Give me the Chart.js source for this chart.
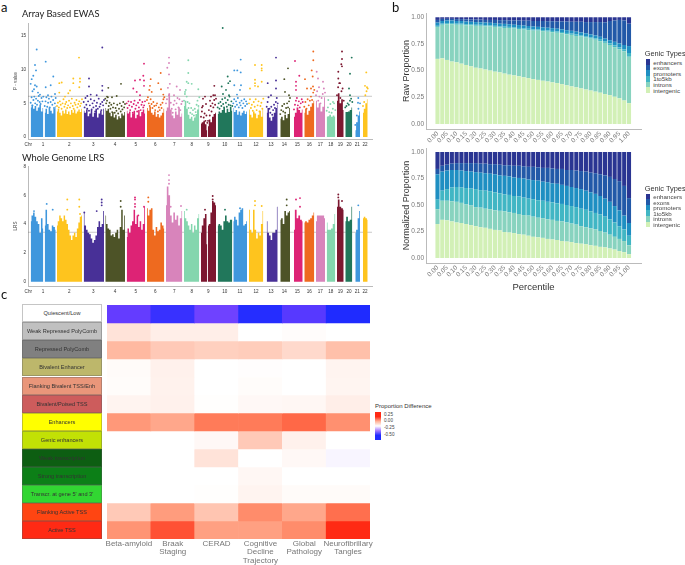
<!DOCTYPE html>
<html>
<head>
<meta charset="utf-8">
<script src="https://cdn.jsdelivr.net/npm/chart.js@4"></script>
<style>
  html, body { margin: 0; background: #fff; }
  #page { position: relative; width: 685px; height: 565px; overflow: hidden; font-family: "Liberation Sans", sans-serif; }
  canvas { position: absolute; }
  .txt { position: absolute; white-space: nowrap; }
  .letter { font: 13px Lato, sans-serif; color: #111; }
  .title { font: 9.3px Lato, sans-serif; color: #222; }
  .lg { position: absolute; font-size: 6.2px; color: #444; }
  .lg .h { position: absolute; top: -10px; left: -1px; font-size: 7.4px; color: #333; white-space: nowrap; }
  .lg .r { display: flex; align-items: center; height: 5.6px; white-space: nowrap; }
  .lg i { display: block; width: 4px; height: 5.6px; margin-right: 3.5px; }
  .state { position: absolute; left: 22px; width: 80px; height: 18.05px; box-sizing: border-box; border: .5px solid rgba(90,90,90,.35);
           font-size: 5.6px; color: #333; display: flex; align-items: center; justify-content: center; white-space: nowrap; }
</style>
</head>
<body>
<div id="page">
  <canvas id="ewas" style="left:0;top:15px" width="377" height="136"></canvas>
  <canvas id="lrs" style="left:0;top:158px" width="377" height="140"></canvas>
  <canvas id="raw" style="left:385px;top:5px" width="261" height="140"></canvas>
  <canvas id="norm" style="left:385px;top:140px" width="261" height="155"></canvas>
  <canvas id="heat" style="left:102px;top:300px" width="273" height="265"></canvas>
</div>
<script>
// panel a: solid part of each chromosome, one list per block, in the order of the plot
const blockStart = [2.7,16.7,29,55.7,77.3,98.7,119,138,156,173,180,189.7,205.3,221,238.7,252.3,266,276.3,288,298.7,309,317.3,327.3,335];
const blockEnd = [15.3,27.7,54,76,97,117,136.3,154.3,171.3,179.3,188,204.3,219,235.3,249.7,262,274.7,286.3,297,307.3,315.7,324.3,332,339.7];
const blockChr = [1,1,2,3,4,5,6,7,8,9,9,10,11,12,13,14,15,16,17,18,19,20,21,22];

const chrTicks = [0.3,15,41.3,65.3,87,107.7,127.3,146.3,163.7,180.3,196.7,212,228,243,256.3,269.3,281.3,292.3,302.7,312.3,321,329.3,337];
const chrLabels = ["Chr","1","2","3","4","5","6","7","8","9","10","11","12","13","14","15","16","17","18","19","20","21","22"];

const ewasTicks = [0,5,10,15];
const ewasLine = 6.05;
const ewasTops = [
  [4.4,4.8,4.2,4.6,3.9,4.4,4.8,3.8,4.3],
  [3.6,4.2,3.4,4.4,3.9,3.5,4.2,4.6],
  [3.8,4.2,3.6,3.2,3.9,3.5,4.1,3.4,3.8,3.3,4.0,3.6,4.1,3.5,3.8,4.1,3.7,4.2],
  [3.9,3.6,4.1,3.1,3.5,4.0,3.0,3.6,4.2,2.9,3.5,3.9,3.3,4.2],
  [4.3,3.9,4.2,3.6,3.1,3.7,2.9,3.3,2.6,3.1,2.8,3.5,3.2,3.7],
  [3.9,3.5,3.8,2.9,3.5,3.9,2.8,3.3,4.0,3.1,3.7,4.1,3.5],
  [4.3,3.9,4.5,3.6,3.3,3.8,3.0,3.4,2.9,3.2,3.6,4.2],
  [3.9,4.4,6.5,4.1,3.2,2.8,3.8,3.3,4.4,3.0,3.5],
  [4.6,5.4,4.2,3.3,2.7,3.0,2.4,2.9,3.4,4.1,4.5],
  [2.0,2.2,2.4,1.9,1.0],
  [1.6,2.6,2.2,3.0,3.4,3.6],
  [3.4,3.8,3.6,4.0,4.3,3.6,4.2,3.7,4.5,3.9],
  [4.3,3.7,4.0,3.3,3.8,3.2,3.6,3.9,3.4,3.8],
  [4.1,3.3,2.9,3.8,3.5,2.8,3.3,3.9,3.0,4.2],
  [3.6,4.3,2.9,2.4,3.0,3.6,4.3,4.8],
  [2.7,3.0,2.5,3.3,2.8,3.4,4.3],
  [3.0,3.6,4.4,4.0,3.6,4.1],
  [3.6,4.2,3.3,3.9,4.5,5.0,5.4],
  [5.4,4.4,5.0,3.8,4.5,5.9],
  [3.0,3.1,3.3,3.0,3.2,3.0],
  [5.4,6.5,5.0,5.6,4.0],
  [3.7,3.7,3.8,4.0,4.4],
  [1.0,2.2,3.2,3.8],
  [3.6,4.2,5.0,5.6]
];
// cloud of hits just above the solid part, evenly along each block
const ewasCloud = [
  [5.1,5.9,4.7,5.5,6.0,5.0,5.7,4.8,5.4,6.1,5.2,4.9,5.8,5.3,6.0],
  [4.6,5.3,5.9,4.5,5.1,5.7,4.4,5.2,6.0,4.8,5.5,4.3,5.0,5.8],
  [4.6,5.1,4.4,5.3,4.8,4.2,5.0,5.6,4.5,4.9,5.2,4.3,4.7,5.4,4.4,5.0,5.7,4.6,4.2,5.1,4.8,5.5,4.4,4.9,5.3,4.6,5.0,5.6],
  [5.2,4.4,5.8,4.8,4.2,5.3,3.9,4.7,5.6,4.1,5.0,4.4,5.4,3.8,4.6,5.1,4.2,5.7,4.5,4.9,4.0,5.2,4.7,5.5],
  [5.7,5.0,5.4,5.9,4.6,5.1,4.2,4.8,3.7,4.4,5.0,3.6,4.3,3.9,4.8,3.5,4.2,5.0,3.8,4.6,4.1,5.2,4.4,4.9],
  [5.0,4.3,5.3,4.7,4.0,5.2,4.5,3.6,4.9,5.4,4.2,4.7,3.8,5.1,4.4,5.5,4.0,4.8,5.2,4.4,4.7,5.3],
  [5.5,5.9,5.0,4.6,5.6,4.9,4.3,5.2,4.6,4.0,4.7,5.0,3.8,4.4,4.0,4.8,4.3,5.1,5.6,5.9],
  [5.0,5.6,7.3,6.2,7.9,5.1,4.2,3.6,4.8,5.4,4.1,5.0,5.8,4.4,5.6,4.0,4.9,5.3],
  [5.4,6.4,7.0,6.0,5.2,4.3,5.0,3.6,4.3,3.4,4.0,3.2,4.2,3.7,4.8,5.4,4.6,5.9],
  [3.0,3.8,4.6,2.9,3.5,2.4,3.2,2.1],
  [2.4,4.0,3.2,4.6,3.8,5.0,4.4,5.5,4.8,5.7],
  [4.4,5.0,4.2,5.2,4.6,5.6,4.9,4.4,5.8,5.1,4.5,5.5,4.8,6.0,4.7,5.3,4.6],
  [5.0,5.6,4.5,5.3,4.8,5.8,4.4,5.1,4.7,5.4,4.3,5.0,5.6,4.6,5.3,4.9],
  [5.0,5.6,4.3,4.8,3.9,5.2,4.5,5.6,4.0,4.7,5.3,3.8,4.6,5.1,4.2,5.7],
  [4.5,5.2,5.9,4.2,3.6,4.5,3.3,4.0,4.8,4.3,5.2,5.8,5.0],
  [3.4,4.0,4.6,3.8,4.9,3.6,4.3,5.0,4.4,5.3,5.8],
  [4.1,4.8,5.4,5.8,4.7,5.3,4.4,5.0,5.6,5.2],
  [4.5,5.2,4.2,5.6,4.7,5.4,6.0,5.5,6.6,7.0],
  [6.2,6.8,5.4,6.0,5.0,5.8,6.4,7.2,6.6],
  [3.9,4.4,3.7,4.9,3.6,4.2,5.0,4.0],
  [6.2,7.4,8.0,5.8,6.8,7.2,5.4],
  [4.4,4.6,5.0,4.8,5.4,5.7,5.2],
  [1.8,3.2,4.2,5.0],
  [4.6,5.2,6.2,6.8,7.2]
];
// single hits high above, [position, value]
const ewasDots = [
  [[8.7,13],[7,10.7],[8,9.9],[5.3,9.1],[3.7,8.6],[2.7,7.9],[7,7.7],[8.7,7.5],[4.5,6.8],[6,7.1],[10,6.6],[12,6.3]],
  [[17.7,11.2],[25.3,9],[17.7,7.4],[22.7,7.7],[27,6.4],[20,6.2]],
  [[51,11.8],[52,8.7],[52,8.2],[45.3,8.7],[45.3,8],[33.7,8.1],[31.3,8],[31.3,6.6],[42,6.9],[40.3,6.5],[51.3,7.4],[37,6]],
  [[74.3,13.3],[61,8.7],[61,7.5],[74.3,7.6],[74.3,6.9],[68.7,6.2],[59.3,6.1],[62.7,6.3]],
  [[80.3,7.3],[93,7.9],[88.7,6.1],[79,6],[84,5.9]],
  [[116,10.9],[115.3,9.1],[107,8.4],[112,8.5],[116,8.4],[116,7.6],[105.3,7.2],[108.7,6.7],[112,6.2]],
  [[122.7,8.6],[122,7.6],[121.3,7],[123.7,6.7],[132.7,9.5],[130.3,8],[133,7.1],[135.3,6.3]],
  [[141,11.8],[141,11],[139.3,10.3],[141,9.3],[152,7],[148.7,7.5],[146,6.2]],
  [[160.3,11.4],[160.3,9.5],[158.7,8.2],[160.3,8],[163.7,7.9],[170.3,7.1],[157,6.7]],
  [[175,5.7],[177,6],[174,4.4],[178,4.9]],
  [[186.3,7.6],[185.3,6.2],[183,6],[187,6.2],[182,5.4]],
  [[194.7,16.2],[199.7,9],[202,8.3],[200.3,8],[193.7,7.5],[198,7],[195,6.4],[201,6.2]],
  [[212.7,11.5],[206.3,9.9],[209.3,9.9],[212.7,9.6],[206.3,7.7],[212,7],[213,7.7],[209,6.3]],
  [[227,10.7],[233.7,10.7],[233.7,10.2],[233.7,9.9],[227,8.5],[227,8],[227,7.6],[233.7,8.2],[222,7.2],[230,7.5]],
  [[248,11.8],[239.7,8],[248,8.4],[248,7.2],[243,6.2]],
  [[260,10.2],[256.3,8.6],[257,6.7],[261,6.2]],
  [[267,11.3],[271.3,9.1],[268,8.2],[268,7.6],[268,7]],
  [[285.3,12.7],[285.3,11.4],[283.7,9.9],[284.7,9],[277,8.6],[279,7.2],[283,7.2],[285,7.5]],
  [[288.7,9.7],[290,8.7],[295,8.2],[291,7.4]],
  [[300.3,5.5],[305,5.2]],
  [[314,12.7],[314,11.6],[313.3,10.8],[314,10.5],[310.3,9.7],[310.3,8.7],[312,8]],
  [[323.7,11.8],[322,9.4],[321,7.2],[322,6.2]],
  [[330.3,5.8],[330,5.1]],
  [[338.3,9.6],[337,7.6],[339,7.4]]
];

const lrsTicks = [0,2,4,6,8];
const lrsLine = 3.43;
const lrsTops = [
  [4.2,4.6,4.8,4.5,4.2,4.0,3.4,4.4,3.7],
  [3.9,5.0,4.0,3.6,3.5,3.9,3.8,3.6],
  [3.9,4.2,4.6,4.4,4.2,4.6,4.3,4.0,3.6,3.2,2.9,3.2,3.4,3.1,3.7,4.1,4.5,4.6],
  [4.8,3.9,3.6,3.4,3.3,3.0,2.7,2.9,3.2,3.8,4.2,3.8,4.0,4.9],
  [4.6,4.0,3.7,3.6,3.2,3.3,3.1,3.4,3.6,3.0,3.8,5.0,3.6,4.6],
  [3.1,3.7,3.4,3.9,4.2,5.0,4.0,4.6,3.8,4.2,3.6,4.0,5.2],
  [5.1,4.6,5.0,5.1,3.6,3.2,3.8,3.5,3.6,4.1,3.9,3.7],
  [5.3,6.6,6.0,4.6,4.1,4.8,4.3,4.6,3.9,4.4,4.9],
  [4.9,4.4,4.2,3.9,3.6,4.0,3.4,3.9,3.6,4.4,4.7],
  [3.4,3.9,4.4,4.7,2.6],
  [3.9,4.0,4.8,5.6,5.5,5.3],
  [3.9,4.0,3.9,3.6,4.2,4.6,4.2,4.1,4.3,4.3],
  [4.2,4.5,4.3,3.9,4.8,5.0,5.1,3.9,4.0,4.2],
  [5.0,3.6,3.4,5.0,3.6,3.0,3.4,3.2,4.0,4.9],
  [4.2,3.4,3.2,2.9,3.4,3.4,3.6,5.2],
  [4.3,4.4,4.0,4.9,4.6,4.8,4.9],
  [3.6,5.0,4.4,4.6,4.3,4.2],
  [4.1,4.2,4.1,4.3,4.4,4.6,4.8],
  [4.2,4.6,4.6,4.6,4.6,4.4],
  [4.1,3.6,3.6,3.7,4.0,4.7],
  [5.2,5.7,5.2,5.1,5.0],
  [4.2,4.5,4.2,4.3,5.2],
  [3.4,3.6,4.4,4.9],
  [4.4,4.5,4.4,4.3]
];
const lrsDots = [
  [[6,4.9]],
  [[18.7,5.4],[24.7,5]],
  [[39.3,5.7],[39.3,5],[51.3,5.7],[51.3,5.2],[52,4.7]],
  [[73.7,5.7],[73.7,5.5],[73.7,5.3],[68.7,4.9],[56.3,4.8]],
  [[92.7,5.6],[92.7,5.2]],
  [[107,5.85],[107,5.7],[107,5.4],[107,5.2],[110.3,4.6],[116,5.2]],
  [[120.3,5.85],[120.3,5.55]],
  [[141,7.4],[141,7.05],[141,6.8],[153,5.25],[142.7,5.2]],
  [[158.7,5]],
  [[177,5]],
  [[184.7,5.95],[184.7,5.7]],
  [[197,5]],
  [[212,5.1]],
  [[227,5.6],[227,5.3],[233.7,5.25]],
  [],
  [[258.7,5.7],[258.7,5.3]],
  [[272,5.8],[272,5.2],[268,5.7]],
  [],
  [],
  [],
  [[310.3,6.05],[310.3,5.85],[314,5.6]],
  [],
  [[330.3,5.3]],
  []
];

// panel b: top edge of each stacked layer per percentile bar
const genicTypes = ["intergenic","introns","1to5kb","promoters","exons","enhancers"];
const percentiles = [0,0.025,0.05,0.075,0.1,0.125,0.15,0.175,0.2,0.225,0.25,0.275,0.3,0.325,0.35,0.375,0.4,0.425,0.45,0.475,0.5,0.525,0.55,0.575,0.6,0.625,0.65,0.675,0.7,0.725,0.75,0.775,0.8,0.825,0.85,0.875,0.9,0.925,0.95,0.975,1];
const percentileTicks = [0,0.05,0.1,0.15,0.2,0.25,0.3,0.35,0.4,0.45,0.5,0.55,0.6,0.65,0.7,0.75,0.8,0.85,0.9,0.95,1];
const proportionTicks = [0,0.25,0.5,0.75,1];

const rawIntergenic = [.61,.615,.60,.585,.578,.565,.553,.54,.527,.52,.51,.50,.49,.483,.472,.462,.455,.447,.437,.43,.42,.413,.405,.398,.39,.383,.373,.362,.352,.343,.333,.323,.313,.303,.293,.28,.27,.255,.24,.22,.195];
const rawIntrons = [.91,.93,.935,.935,.93,.93,.925,.925,.92,.92,.915,.915,.91,.905,.90,.90,.895,.89,.885,.88,.875,.875,.87,.865,.86,.855,.85,.84,.835,.825,.82,.81,.80,.79,.775,.76,.74,.72,.70,.68,.63];
const raw1to5 = [.92,.94,.945,.945,.94,.94,.935,.935,.93,.93,.925,.925,.92,.915,.912,.91,.905,.90,.897,.892,.887,.885,.88,.877,.872,.867,.862,.853,.847,.838,.832,.823,.813,.803,.79,.775,.755,.737,.718,.70,.665];
const rawPromoters = [.95,.965,.97,.97,.965,.965,.96,.958,.955,.953,.95,.948,.945,.94,.938,.935,.93,.927,.923,.918,.913,.91,.906,.902,.898,.893,.887,.879,.873,.865,.858,.85,.84,.83,.817,.80,.785,.77,.755,.74,.73];
const rawExons = [.975,.985,.985,.985,.983,.983,.98,.98,.978,.978,.975,.975,.975,.973,.973,.97,.97,.97,.968,.968,.965,.965,.965,.963,.963,.96,.96,.96,.958,.958,.958,.955,.955,.955,.955,.953,.965,.97,.975,.97,.94];
const rawEnhancers = [1,1,1,1,1,1,1,1,1,1,1,1,1,1,1,1,1,1,1,1,1,1,1,1,1,1,1,1,1,1,1,1,1,1,1,1,1,1,1,1,1];

const normIntergenic = [.32,.36,.355,.345,.335,.33,.32,.31,.30,.29,.285,.275,.265,.26,.245,.24,.235,.225,.22,.21,.20,.195,.19,.18,.175,.17,.16,.155,.15,.14,.135,.13,.12,.115,.105,.10,.09,.08,.065,.055,.035];
const normIntrons = [.46,.54,.54,.535,.53,.52,.505,.495,.48,.475,.465,.46,.45,.445,.44,.43,.425,.415,.405,.40,.39,.38,.375,.365,.36,.35,.345,.335,.325,.315,.30,.29,.28,.27,.255,.24,.22,.20,.18,.16,.12];
const norm1to5 = [.55,.635,.65,.665,.67,.665,.66,.655,.65,.64,.635,.63,.62,.61,.60,.595,.585,.58,.57,.56,.555,.545,.54,.53,.525,.515,.51,.50,.49,.48,.465,.455,.44,.425,.41,.39,.365,.335,.30,.27,.21];
const normPromoters = [.79,.815,.825,.83,.83,.825,.82,.815,.81,.805,.80,.795,.79,.78,.775,.77,.76,.755,.75,.74,.735,.73,.72,.715,.705,.70,.69,.68,.67,.66,.65,.635,.62,.605,.585,.56,.53,.49,.45,.40,.33];
const normExons = [.84,.87,.88,.89,.895,.895,.895,.895,.895,.89,.89,.885,.885,.88,.875,.875,.87,.87,.865,.86,.86,.855,.85,.85,.845,.84,.84,.83,.83,.825,.82,.815,.805,.80,.79,.78,.765,.745,.725,.68,.565];
const normEnhancers = [1,1,1,1,1,1,1,1,1,1,1,1,1,1,1,1,1,1,1,1,1,1,1,1,1,1,1,1,1,1,1,1,1,1,1,1,1,1,1,1,1];

// panel c
const chromStates = ["Quiescent/Low","Weak Repressed PolyComb","Repressed PolyComb","Bivalent Enhancer","Flanking Bivalent TSS/Enh","Bivalent/Poised TSS","Enhancers","Genic enhancers","Weak transcription","Strong transcription","Transcr. at gene 5' and 3'","Flanking Active TSS","Active TSS"];
const traits = [["Beta-amyloid"],["Braak","Staging"],["CERAD"],["Cognitive","Decline","Trajectory"],["Global","Pathology"],["Neurofibrillary","Tangles"]];
const heatQuiescent = [-.39,-.46,-.37,-.49,-.41,-.50];
const heatWeakRepressed = [.05,.03,.03,0,.005,0];
const heatRepressed = [.115,.09,.08,.085,.065,.105];
const heatBivalentEnh = [.008,.025,0,.003,0,.02];
const heatFlankBivalent = [.006,.024,0,.006,0,.018];
const heatPoised = [.02,.025,.002,.012,.014,.03];
const heatEnhancers = [.16,.14,.195,.195,.21,.17];
const heatGenicEnh = [0,0,.012,.09,.025,0];
const heatWeakTx = [0,0,.05,0,.012,-.03];
const heatStrongTx = [0,0,0,.014,0,0];
const heatTranscr = [0,0,.002,.02,.008,.008];
const heatFlankActive = [.09,.155,.097,.175,.14,.205];
const heatActive = [.165,.225,.15,.15,.175,.25];
const heatRows = [heatQuiescent,heatWeakRepressed,heatRepressed,heatBivalentEnh,heatFlankBivalent,heatPoised,heatEnhancers,heatGenicEnh,heatWeakTx,heatStrongTx,heatTranscr,heatFlankActive,heatActive];
const diffTicks = ["0.25","0.00","-0.25","-0.50"];

// colours
const chrColors = ["#3f97dd","#fec41e","#483097","#4d5327","#dd2375","#ee6a1f","#d884bb","#84d6ae","#7c1730","#21775b"];
const genicColors = ["#d2f0b6","#88d3bf","#41b6c4","#1f8fc2","#2259a8","#2a3592"];
const stateColors = ["#ffffff","#c0c0c0","#808080","#bdb76b","#e9967a","#cd5c5c","#ffff00","#c2e105","#0d5e12","#0c7f17","#32d632","#ff4512","#ff2a14"];
const heatStops = [[-.5,[31,43,255]],[-.38,[106,61,255]],[-.25,[166,125,255]],[-.1,[232,222,255]],[0,[255,255,255]],[.05,[255,227,217]],[.1,[255,195,174]],[.15,[255,160,130]],[.2,[255,119,84]],[.25,[255,42,20]]];

Chart.defaults.font.family = '"Liberation Sans", sans-serif';
Chart.defaults.animation = false;
Chart.defaults.responsive = false;
Chart.defaults.plugins.legend.display = false;
Chart.defaults.plugins.tooltip.enabled = false;

function heatColor(v) {
  let i = 1;
  while (i < heatStops.length - 1 && v > heatStops[i][0]) i++;
  const [a, ca] = heatStops[i - 1], [b, cb] = heatStops[i];
  const t = Math.min(1, Math.max(0, (v - a) / (b - a)));
  return "rgb(" + ca.map((c, k) => Math.round(c + (cb[k] - c) * t)).join(",") + ")";
}

function manhattan(id, tops, cloud, dots, yTicks, line, yMin, yMax, yTitle) {
  const sets = [];
  tops.forEach((top, b) => {
    const color = chrColors[(blockChr[b] - 1) % chrColors.length];
    const width = blockEnd[b] - blockStart[b];
    sets.push({
      type: "line", stepped: "middle", fill: { value: 0 }, borderWidth: 0, pointRadius: 0, backgroundColor: color,
      data: top.map((y, i) => ({ x: blockStart[b] + i * width / (top.length - 1), y }))
    });
    const near = cloud[b] || [];
    sets.push({
      type: "scatter", pointRadius: 0.95, pointBorderWidth: 0, backgroundColor: color,
      data: near.map((y, i) => ({ x: blockStart[b] + i * width / (near.length - 1), y }))
        .concat(dots[b].map(d => ({ x: d[0], y: d[1] })))
    });
  });
  sets.push({
    type: "line", borderColor: "rgba(90,90,90,.55)", borderWidth: 0.6, pointRadius: 0,
    data: [{ x: 0, y: line }, { x: 344, y: line }]
  });
  new Chart(document.getElementById(id), {
    data: { datasets: sets },
    options: {
      layout: { padding: { top: 8, right: 5 } },
      scales: {
        x: {
          type: "linear", min: 0, max: 344,
          grid: { display: false, drawTicks: false }, border: { color: "#bbb" },
          afterFit: s => { s.height = 12; },
          afterBuildTicks: s => { s.ticks = chrTicks.map(value => ({ value })); },
          ticks: { autoSkip: false, maxRotation: 0, padding: 3, color: "#333", font: { size: 4.6 }, callback: v => chrLabels[chrTicks.indexOf(v)] }
        },
        y: {
          min: yMin, max: yMax,
          grid: { display: false, drawTicks: false }, border: { color: "#bbb" },
          afterFit: s => { s.width = 28; },
          afterBuildTicks: s => { s.ticks = yTicks.map(value => ({ value })); },
          title: { display: true, text: yTitle, color: "#444", font: { size: 4.6 }, padding: { top: 13, bottom: 0 } },
          ticks: { padding: 2, color: "#333", font: { size: 4.6 } }
        }
      }
    }
  });
}

function stackedBars(id, tops, yMin, yMax, bottomHeight, yTitle, xTitle) {
  const sets = tops.map((top, k) => ({
    label: genicTypes[k], backgroundColor: genicColors[k], barPercentage: 0.86, categoryPercentage: 1,
    data: top.map((y, i) => ({ x: percentiles[i], y: k ? y - tops[k - 1][i] : y }))
  }));
  new Chart(document.getElementById(id), {
    type: "bar",
    data: { datasets: sets },
    options: {
      layout: { padding: { top: 8, right: 5 } },
      scales: {
        x: {
          type: "linear", offset: false, stacked: true, min: -0.06, max: 1.0627,
          grid: { display: false, drawTicks: false }, border: { color: "#bbb", width: 1 },
          afterFit: s => { s.height = bottomHeight; },
          afterBuildTicks: s => { s.ticks = percentileTicks.map(value => ({ value })); },
          title: { display: !!xTitle, text: xTitle, color: "#333", font: { size: 9.5 }, padding: { top: 0, bottom: 2 } },
          ticks: { autoSkip: false, minRotation: 45, maxRotation: 45, padding: 1, color: "#777", font: { size: 6.5 }, callback: v => v.toFixed(2) }
        },
        y: {
          stacked: true, min: yMin, max: yMax,
          grid: { display: false, drawTicks: false }, border: { color: "#bbb", width: 1 },
          afterFit: s => { s.width = 41; },
          afterBuildTicks: s => { s.ticks = proportionTicks.map(value => ({ value })); },
          title: { display: true, text: yTitle, color: "#333", font: { size: 9 }, padding: { top: 16, bottom: 0 } },
          ticks: { padding: 2, color: "#777", font: { size: 6.5 }, callback: v => v.toFixed(2) }
        }
      }
    }
  });
}

manhattan("ewas", ewasTops, ewasCloud, ewasDots, ewasTicks, ewasLine, -0.297, 16.94, "P - value");
manhattan("lrs", lrsTops, [], lrsDots, lrsTicks, lrsLine, -0.3, 8.03, "LRS");
stackedBars("raw", [rawIntergenic, rawIntrons, raw1to5, rawPromoters, rawExons, rawEnhancers], -0.047, 1.04, 16, "Raw Proportion", "");
stackedBars("norm", [normIntergenic, normIntrons, norm1to5, normPromoters, normExons, normEnhancers], -0.047, 1.0376, 32, "Normalized Proportion", "Percentile");

new Chart(document.getElementById("heat"), {
  type: "bar",
  data: {
    labels: traits,
    datasets: heatRows.map((row, r) => ({
      label: chromStates[r], barPercentage: 1, categoryPercentage: 1,
      data: row.map(() => 1), backgroundColor: row.map(heatColor)
    }))
  },
  options: {
    layout: { padding: { top: 5, right: 5, left: 5 } },
    scales: {
      x: {
        stacked: true, grid: { display: false, drawTicks: false }, border: { display: false },
        afterFit: s => { s.height = 26; },
        ticks: { autoSkip: false, maxRotation: 0, padding: 0, color: "#777", font: { size: 8, lineHeight: 1.09 } }
      },
      y: { stacked: true, reverse: true, display: false, min: 0, max: chromStates.length }
    }
  }
});

// html bits: panel letters, titles, legends, row names
const page = document.getElementById("page");
function addText(text, cls, left, top) {
  const d = document.createElement("div");
  d.className = "txt " + cls;
  d.textContent = text;
  d.style.left = left + "px";
  d.style.top = top + "px";
  page.appendChild(d);
  return d;
}
addText("a", "letter", 1, -1);
addText("b", "letter", 392, -1);
addText("c", "letter", 1, 286);
addText("Array Based EWAS", "title", 22, 8);
addText("Whole Genome LRS", "title", 22, 152);

function genicLegend(top) {
  const lg = document.createElement("div");
  lg.className = "lg";
  lg.style.left = "645.7px";
  lg.style.top = top + "px";
  lg.innerHTML = '<div class="h">Genic Types</div>';
  genicTypes.slice().reverse().forEach((name, i) => {
    const r = document.createElement("div");
    r.className = "r";
    r.innerHTML = '<i style="background:' + genicColors[5 - i] + '"></i>' + name;
    lg.appendChild(r);
  });
  page.appendChild(lg);
}
genicLegend(59.3);
genicLegend(193.7);

chromStates.forEach((name, i) => {
  const d = document.createElement("div");
  d.className = "state";
  d.textContent = name;
  d.style.top = (304.3 + i * 18.05) + "px";
  d.style.background = stateColors[i];
  page.appendChild(d);
});

// colour bar of panel c
addText("Proportion Difference", "", 375, 403).style.cssText += "font-size:6px;color:#333";
const bar = document.createElement("div");
bar.style.cssText = "position:absolute;left:375px;top:412px;width:6px;height:28px;background:linear-gradient(" +
  [.32, .25, .125, 0, -.25, -.5, -.72].map(v => heatColor(v)).join(",") + ")";
page.appendChild(bar);
diffTicks.forEach((t, i) => {
  addText(t, "", 384, 411.6 + i * 6.67).style.cssText += "font-size:4.6px;color:#444";
});
</script>
</body>
</html>
